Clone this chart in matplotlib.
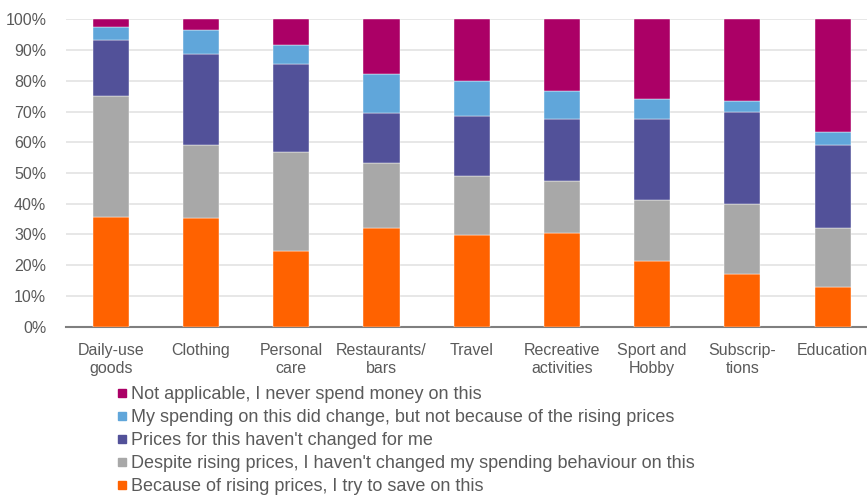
import matplotlib
matplotlib.use("Agg")
import matplotlib.pyplot as plt
from matplotlib.lines import Line2D
from matplotlib.ticker import PercentFormatter
import numpy as np

plt.rcParams['font.family'] = ['Liberation Sans', 'DejaVu Sans']

categories = ["Daily-use\ngoods", "Clothing", "Personal\ncare", "Restaurants/\nbars", "Travel",
              "Recreative\nactivities", "Sport and\nHobby", "Subscrip-\ntions", "Education"]

save_on_this = [35.6, 35.3, 24.6, 32.1, 29.8, 30.4, 21.5, 17.2, 13.0]
not_changed_spending = [39.3, 23.9, 32.2, 21.2, 19.2, 17.0, 19.8, 22.7, 19.2]
prices_not_changed = [18.4, 29.4, 28.6, 16.3, 19.6, 20.2, 26.2, 30.0, 27.0]
changed_other_reason = [4.2, 8.0, 6.3, 12.7, 11.3, 9.0, 6.5, 3.6, 4.1]
not_applicable = [2.5, 3.4, 8.3, 17.7, 20.1, 23.4, 26.0, 26.5, 36.7]

series = [
    ("Because of rising prices, I try to save on this", save_on_this, "#FF6200"),
    ("Despite rising prices, I haven't changed my spending behaviour on this", not_changed_spending, "#A8A8A8"),
    ("Prices for this haven't changed for me", prices_not_changed, "#525199"),
    ("My spending on this did change, but not because of the rising prices", changed_other_reason, "#60A6DA"),
    ("Not applicable, I never spend money on this", not_applicable, "#AB0066"),
]

text_color = "#5a5a5a"

fig = plt.figure(figsize=(8.67, 4.95), dpi=100)
ax = fig.add_axes([65.7 / 867, 1 - 326.7 / 495, 812 / 867, (326.7 - 19.3) / 495])

x = np.arange(len(categories))
bottom = np.zeros(len(categories))
for label, vals, color in series:
    vals = np.array(vals)
    ax.bar(x, vals, bottom=bottom, width=0.4, color=color, label=label,
           edgecolor="#ffffff", linewidth=0.3, zorder=3)
    bottom += vals

ax.set_xlim(-0.5, len(categories) - 0.5)
ax.set_ylim(0, 100)
ax.set_yticks(np.arange(0, 101, 10))
ax.yaxis.set_major_formatter(PercentFormatter(decimals=0))
ax.set_xticks(x)
ax.set_xticklabels(categories)
ax.grid(axis="y", color="#e3e3e3", linewidth=1.2, zorder=0)
for s in ["top", "right", "left"]:
    ax.spines[s].set_visible(False)
ax.spines["bottom"].set_color("#7f7f7f")
ax.spines["bottom"].set_linewidth(1.5)
ax.tick_params(axis="both", length=0, colors=text_color, labelsize=11.5)
ax.tick_params(axis="x", pad=12)
ax.tick_params(axis="y", pad=14)

handles = [Line2D([0], [0], marker="s", linestyle="none", markersize=6,
                  markerfacecolor=c, markeredgecolor=c) for _, _, c in series][::-1]
labels = [l for l, _, _ in series][::-1]
fig.legend(handles, labels, loc="upper left", bbox_to_anchor=(113 / 867, 1 - 386 / 495),
           frameon=False, fontsize=13, labelcolor=text_color, handletextpad=0.0,
           labelspacing=0.33, handlelength=1.0, borderaxespad=0, borderpad=0)

fig.savefig("out.png", dpi=100)
